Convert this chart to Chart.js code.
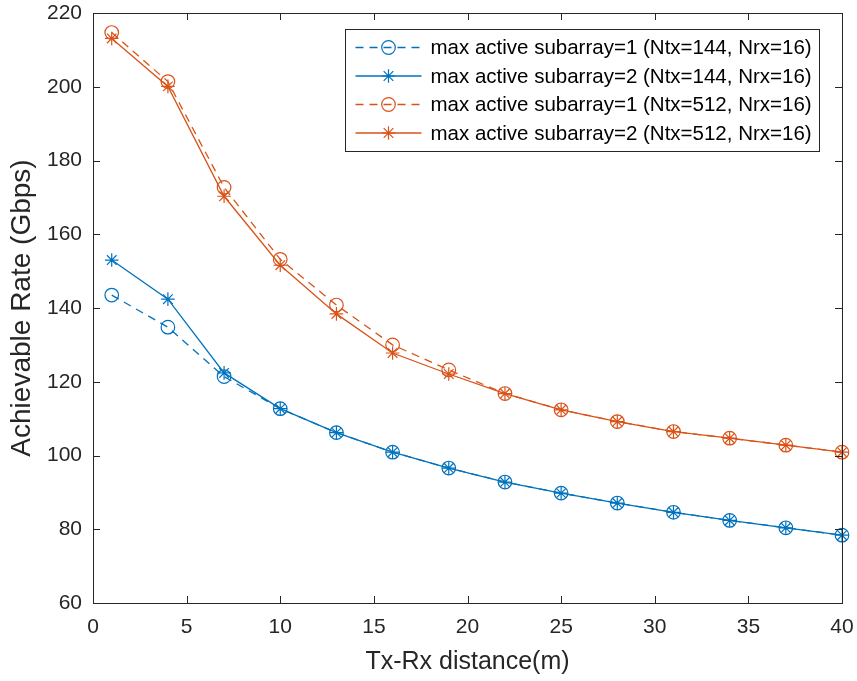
<!DOCTYPE html>
<html>
<head>
<meta charset="utf-8">
<script src="https://cdn.jsdelivr.net/npm/chart.js@4/dist/chart.umd.min.js"></script>
<style>
html,body{margin:0;padding:0;background:#fff;}
#wrap{width:857px;height:681px;}
</style>
</head>
<body>
<div id="wrap"><canvas id="c" width="857" height="681"></canvas></div>
<script>
// ---- data ----
const distances = [1, 4, 7, 10, 13, 16, 19, 22, 25, 28, 31, 34, 37, 40];
const rateSub1Ntx144 = [143.5, 134.8, 121.4, 112.7, 106.2, 100.9, 96.6, 92.8, 89.8, 87.1, 84.6, 82.4, 80.4, 78.4];
const rateSub2Ntx144 = [153.0, 142.4, 122.4, 112.7, 106.2, 100.9, 96.6, 92.8, 89.8, 87.1, 84.6, 82.4, 80.4, 78.4];
const rateSub1Ntx512 = [214.7, 201.4, 172.7, 153.2, 140.8, 130.0, 123.2, 116.8, 112.4, 109.2, 106.5, 104.7, 102.8, 100.9];
const rateSub2Ntx512 = [213.1, 200.1, 170.3, 151.6, 138.4, 127.8, 122.1, 116.8, 112.4, 109.2, 106.5, 104.7, 102.8, 100.9];
const seriesLabels = [
  'max active subarray=1 (Ntx=144, Nrx=16)',
  'max active subarray=2 (Ntx=144, Nrx=16)',
  'max active subarray=1 (Ntx=512, Nrx=16)',
  'max active subarray=2 (Ntx=512, Nrx=16)'
];
const xTickValues = [0, 5, 10, 15, 20, 25, 30, 35, 40];
const yTickValues = [60, 80, 100, 120, 140, 160, 180, 200, 220];
const xAxisTitle = 'Tx-Rx distance(m)';
const yAxisTitle = 'Achievable Rate (Gbps)';

// ---- styles ----
const BLUE = '#0072BD';
const ORANGE = '#D95319';
const AXIS = '#262626';
const FONT = '"Liberation Sans", Arial, Helvetica, sans-serif';

function pts(vals) { return distances.map((d, i) => ({x: d, y: vals[i]})); }

function ds(label, vals, color, dashed, style) {
  return {
    label: label,
    data: pts(vals),
    borderColor: color,
    backgroundColor: 'rgba(0,0,0,0)',
    borderWidth: 1.3,
    borderDash: dashed ? [8, 6] : [],
    pointStyle: style,
    pointRadius: 6.8,
    pointHoverRadius: 6.8,
    pointBorderColor: color,
    pointBackgroundColor: 'rgba(0,0,0,0)',
    pointBorderWidth: 1.2,
    tension: 0,
    fill: false,
    clip: false
  };
}

const datasets = [
  ds(seriesLabels[0], rateSub1Ntx144, BLUE, true, 'circle'),
  ds(seriesLabels[1], rateSub2Ntx144, BLUE, false, 'star'),
  ds(seriesLabels[2], rateSub1Ntx512, ORANGE, true, 'circle'),
  ds(seriesLabels[3], rateSub2Ntx512, ORANGE, false, 'star')
];

const boxPlugin = {
  id: 'matlabBox',
  afterDatasetsDraw(chart) {
    const ctx = chart.ctx;
    const a = chart.chartArea;
    const xs = chart.scales.x, ys = chart.scales.y;
    ctx.save();
    ctx.strokeStyle = AXIS;
    ctx.lineWidth = 1;
    ctx.setLineDash([]);
    const tl = 7;
    ctx.beginPath();
    xTickValues.forEach(v => {
      const px = Math.round(xs.getPixelForValue(v)) + 0.5;
      ctx.moveTo(px, a.bottom); ctx.lineTo(px, a.bottom - tl);
      ctx.moveTo(px, a.top); ctx.lineTo(px, a.top + tl);
    });
    yTickValues.forEach(v => {
      const py = Math.round(ys.getPixelForValue(v)) + 0.5;
      ctx.moveTo(a.left, py); ctx.lineTo(a.left + tl, py);
      ctx.moveTo(a.right, py); ctx.lineTo(a.right - tl, py);
    });
    ctx.stroke();
    ctx.strokeRect(Math.round(a.left) + 0.5, Math.round(a.top) + 0.5,
                   Math.round(a.right - a.left), Math.round(a.bottom - a.top));
    ctx.restore();

    // legend
    ctx.save();
    const fontSize = 20.5;
    ctx.font = fontSize + 'px ' + FONT;
    let maxW = 0;
    chart.data.datasets.forEach(d => { maxW = Math.max(maxW, ctx.measureText(d.label).width); });
    const L = Math.round(a.left + 252) + 0.5;
    const T = Math.round(a.top + 16) + 0.5;
    const rowH = 28.5;
    const textX = L + 85;
    const W = Math.round(85 + maxW + 8);
    const H = Math.round(18 + rowH * 3 + 18);
    ctx.fillStyle = '#ffffff';
    ctx.fillRect(L, T, W, H);
    ctx.strokeStyle = AXIS;
    ctx.lineWidth = 1;
    ctx.strokeRect(L, T, W, H);
    chart.data.datasets.forEach((d, i) => {
      const cy = T + 18 + i * rowH;
      ctx.strokeStyle = d.borderColor;
      ctx.lineWidth = d.borderWidth;
      ctx.setLineDash(d.borderDash);
      ctx.beginPath();
      ctx.moveTo(L + 10, cy);
      ctx.lineTo(L + 76, cy);
      ctx.stroke();
      ctx.setLineDash([]);
      ctx.fillStyle = 'rgba(0,0,0,0)';
      ctx.strokeStyle = d.pointBorderColor;
      ctx.lineWidth = d.pointBorderWidth;
      Chart.helpers.drawPoint(ctx, {
        pointStyle: d.pointStyle, radius: d.pointRadius, rotation: 0, borderWidth: d.pointBorderWidth
      }, L + 43, cy);
      ctx.fillStyle = '#000000';
      ctx.font = fontSize + 'px ' + FONT;
      ctx.textAlign = 'left';
      ctx.textBaseline = 'middle';
      ctx.fillText(d.label, textX, cy + 1);
    });
    ctx.restore();
  }
};

new Chart(document.getElementById('c'), {
  type: 'line',
  data: { datasets: datasets },
  options: {
    responsive: false,
    animation: false,
    devicePixelRatio: 1,
    layout: { padding: { top: 13, right: 15, left: 0, bottom: 0 } },
    plugins: {
      legend: { display: false },
      tooltip: { enabled: false }
    },
    scales: {
      x: {
        type: 'linear',
        min: 0, max: 40,
        afterBuildTicks(scale) { scale.ticks = xTickValues.map(v => ({value: v})); },
        afterFit(scale) { scale.height = 78; scale.paddingLeft = 0; scale.paddingRight = 0; },
        grid: { display: false, drawTicks: false },
        border: { display: false },
        ticks: { color: AXIS, font: { family: FONT, size: 21 }, padding: 12, maxRotation: 0, autoSkip: false },
        title: { display: true, text: xAxisTitle, color: AXIS, font: { family: FONT, size: 25 }, padding: { top: 0, bottom: 4 } }
      },
      y: {
        type: 'linear',
        min: 60, max: 220,
        afterBuildTicks(scale) { scale.ticks = yTickValues.map(v => ({value: v})); },
        afterFit(scale) { scale.width = 93; scale.paddingTop = 0; scale.paddingBottom = 0; },
        grid: { display: false, drawTicks: false },
        border: { display: false },
        ticks: { color: AXIS, font: { family: FONT, size: 21 }, padding: 11, autoSkip: false },
        title: { display: true, text: yAxisTitle, color: AXIS, font: { family: FONT, size: 28 }, padding: { top: 5, bottom: 0 } }
      }
    }
  },
  plugins: [boxPlugin]
});
</script>
</body>
</html>
